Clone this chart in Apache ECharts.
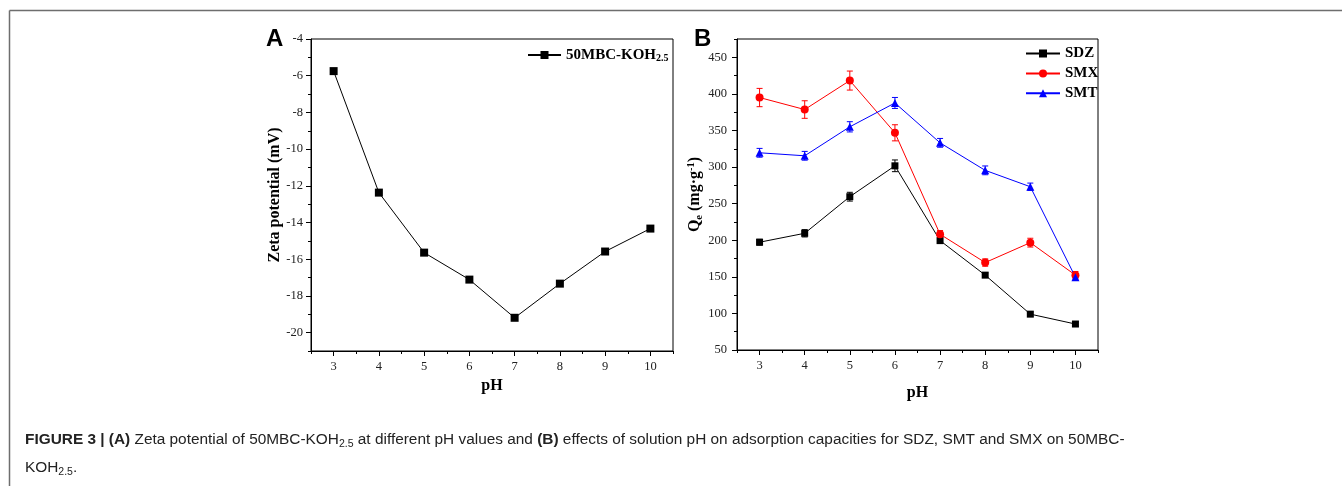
<!DOCTYPE html>
<html>
<head>
<meta charset="utf-8">
<script src="https://cdn.jsdelivr.net/npm/echarts@6/dist/echarts.min.js"></script>
<style>
html,body{margin:0;padding:0;background:#fff;}
#chart{width:1342px;height:486px;}
</style>
</head>
<body>
<div id="chart"></div>
<script>
// ---------- data ----------
const pH = [3, 4, 5, 6, 7, 8, 9, 10];
const zeta = [-5.75, -12.37, -15.64, -17.11, -19.19, -17.33, -15.58, -14.33];
const sdz = [197.3, 209.5, 259.5, 301.7, 199.5, 152.3, 99, 85.5];
const sdzErr = [4, 5, 6, 8, 4, 3, 3, 3];
const smx = [395, 378.6, 418.2, 346.8, 208.2, 169.5, 196.7, 152.3];
const smxErr = [12.5, 12, 13, 11, 5, 5, 6, 5];
const smt = [319.5, 315.4, 355, 387.6, 333.1, 295.5, 273.1, 149.5];
const smtErr = [6, 6, 7, 7.5, 6, 6, 5, 4];

// ---------- tick labels ----------
const xTicks = [3, 4, 5, 6, 7, 8, 9, 10];
const xMinorTicks = [2.5, 3.5, 4.5, 5.5, 6.5, 7.5, 8.5, 9.5, 10.5];
const zetaTicks = [-20, -18, -16, -14, -12, -10, -8, -6, -4];
const zetaMinorTicks = [-21, -19, -17, -15, -13, -11, -9, -7, -5];
const qTicks = [50, 100, 150, 200, 250, 300, 350, 400, 450];
const qMinorTicks = [75, 125, 175, 225, 275, 325, 375, 425, 475];

const SERIF = "'Liberation Serif','Times New Roman',serif";
const SANS = "'Liberation Sans',Arial,Helvetica,sans-serif";

const chart = echarts.init(document.getElementById('chart'), null, {renderer: 'canvas'});

function pairs(ys) { return pH.map((x, i) => [x, ys[i]]); }
function errData(ys, es) { return pH.map((x, i) => [x, ys[i], es[i]]); }

function mainX(gridIndex, nameGap) {
  return {
    type: 'value', gridIndex, min: 2.5, max: 10.5, position: 'bottom',
    name: 'pH', nameLocation: 'middle', nameGap,
    nameTextStyle: {fontFamily: SERIF, fontWeight: 'bold', fontSize: 16, color: '#000'},
    axisLine: {show: true, lineStyle: {color: '#000', width: 1}},
    axisTick: {show: true, length: 5, customValues: xTicks, lineStyle: {color: '#000'}},
    axisLabel: {show: true, customValues: xTicks, margin: 9, fontFamily: SERIF, fontSize: 12.5, color: '#222'},
    splitLine: {show: false}
  };
}
function minorX(gridIndex) {
  return {
    type: 'value', gridIndex, min: 2.5, max: 10.5, position: 'bottom',
    axisLine: {show: false},
    axisTick: {show: true, length: 3, customValues: xMinorTicks, lineStyle: {color: '#000'}},
    axisLabel: {show: false},
    splitLine: {show: false}
  };
}
function mainY(gridIndex, min, max, ticks, name, nameGap, margin, rich) {
  const o = {
    type: 'value', gridIndex, min, max, position: 'left',
    name, nameLocation: 'middle', nameGap, nameRotate: 90,
    nameTextStyle: {fontFamily: SERIF, fontWeight: 'bold', fontSize: 16, color: '#000'},
    axisLine: {show: true, lineStyle: {color: '#000', width: 1}},
    axisTick: {show: true, length: 5, customValues: ticks, lineStyle: {color: '#000'}},
    axisLabel: {show: true, customValues: ticks, margin, fontFamily: SERIF, fontSize: 12.5, color: '#222'},
    splitLine: {show: false}
  };
  if (rich) o.nameTextStyle.rich = rich;
  return o;
}
function minorY(gridIndex, min, max, ticks) {
  return {
    type: 'value', gridIndex, min, max, position: 'left',
    axisLine: {show: false},
    axisTick: {show: true, length: 3, customValues: ticks, lineStyle: {color: '#000'}},
    axisLabel: {show: false},
    splitLine: {show: false}
  };
}

function errorBars(name, ys, es, color, xAxisIndex, yAxisIndex) {
  return {
    type: 'custom', name: name + '_err', xAxisIndex, yAxisIndex,
    data: errData(ys, es), z: 2, silent: true,
    renderItem: function (params, api) {
      const x = api.value(0), y = api.value(1), e = api.value(2);
      const top = api.coord([x, y + e]);
      const bot = api.coord([x, y - e]);
      const w = 3;
      const st = {stroke: color, lineWidth: 1};
      return {
        type: 'group',
        children: [
          {type: 'line', shape: {x1: top[0], y1: top[1], x2: bot[0], y2: bot[1]}, style: st},
          {type: 'line', shape: {x1: top[0] - w, y1: top[1], x2: top[0] + w, y2: top[1]}, style: st},
          {type: 'line', shape: {x1: bot[0] - w, y1: bot[1], x2: bot[0] + w, y2: bot[1]}, style: st}
        ]
      };
    }
  };
}

function lineSeries(name, ys, color, symbol, size, xAxisIndex, yAxisIndex) {
  return {
    type: 'line', name, xAxisIndex, yAxisIndex, data: pairs(ys),
    symbol, symbolSize: size, showAllSymbol: true, z: 3,
    lineStyle: {color, width: 1},
    itemStyle: {color, borderWidth: 0},
    emphasis: {disabled: true},
    animation: false
  };
}

const option = {
  backgroundColor: '#fff',
  animation: false,
  grid: [
    {left: 311, top: 39, width: 362, height: 312, show: true, borderColor: '#000', borderWidth: 1, backgroundColor: 'transparent'},
    {left: 737, top: 39, width: 361, height: 311, show: true, borderColor: '#000', borderWidth: 1, backgroundColor: 'transparent'}
  ],
  xAxis: [mainX(0, 27), minorX(0), mainX(1, 35), minorX(1)],
  yAxis: [
    mainY(0, -21, -4, zetaTicks, 'Zeta potential (mV)', 28, 8),
    minorY(0, -21, -4, zetaMinorTicks),
    mainY(1, 50, 475, qTicks, '{b|Q}{sub|e}{b| (mg·g}{sup|-1}{b|)}', 32, 10, {
      b: {fontFamily: SERIF, fontWeight: 'bold', fontSize: 16, color: '#000', lineHeight: 19},
      sub: {fontFamily: SERIF, fontWeight: 'bold', fontSize: 10.5, color: '#000', lineHeight: 10, verticalAlign: 'bottom'},
      sup: {fontFamily: SERIF, fontWeight: 'bold', fontSize: 10.5, color: '#000', lineHeight: 10, verticalAlign: 'top'}
    }),
    minorY(1, 50, 475, qMinorTicks)
  ],
  legend: [
    {
      data: ['50MBC-KOH'], left: 527, top: 47.5, orient: 'vertical', padding: 0,
      itemWidth: 33, itemHeight: 10, itemGap: 4,
      formatter: function (n) { return '{a|' + n + '}{s|2.5}'; },
      textStyle: {
        fontFamily: SERIF, fontWeight: 'bold', fontSize: 15, color: '#000',
        rich: {
          a: {fontFamily: SERIF, fontWeight: 'bold', fontSize: 15, color: '#000', lineHeight: 16},
          s: {fontFamily: SERIF, fontWeight: 'bold', fontSize: 10, color: '#000', lineHeight: 10, verticalAlign: 'bottom'}
        }
      },
      selectedMode: false
    },
    {
      data: ['SDZ', 'SMX', 'SMT'], left: 1025, top: 45.5, orient: 'vertical', padding: 0,
      itemWidth: 34, itemHeight: 10, itemGap: 3.9,
      textStyle: {fontFamily: SERIF, fontWeight: 'bold', fontSize: 15, color: '#000', lineHeight: 16},
      selectedMode: false
    }
  ],
  series: [
    lineSeries('50MBC-KOH', zeta, '#000', 'rect', 8, 0, 0),
    errorBars('SDZ', sdz, sdzErr, '#000', 2, 2),
    lineSeries('SDZ', sdz, '#000', 'rect', 7, 2, 2),
    errorBars('SMX', smx, smxErr, '#ff0000', 2, 2),
    lineSeries('SMX', smx, '#ff0000', 'circle', 8, 2, 2),
    errorBars('SMT', smt, smtErr, '#0000ff', 2, 2),
    lineSeries('SMT', smt, '#0000ff', 'triangle', 8, 2, 2)
  ],
  graphic: [
    {type: 'line', shape: {x1: 9.5, y1: 10.5, x2: 1342, y2: 10.5}, style: {stroke: '#6e6e6e', lineWidth: 1.5}, silent: true},
    {type: 'line', shape: {x1: 9.5, y1: 10.5, x2: 9.5, y2: 486}, style: {stroke: '#6e6e6e', lineWidth: 1.5}, silent: true},
    {type: 'text', left: 266, top: 27, style: {text: 'A', font: "bold 24px " + SANS, fill: '#000'}, silent: true},
    {type: 'text', left: 694, top: 27, style: {text: 'B', font: "bold 24px " + SANS, fill: '#000'}, silent: true},
    {
      type: 'text', left: 25, top: 432, silent: true,
      style: {
        text: '{b|FIGURE 3 | (A)}{n| Zeta potential of 50MBC-KOH}{s|2.5}{n| at different pH values and }{b|(B)}{n| effects of solution pH on adsorption capacities for SDZ, SMT and SMX on 50MBC-}',
        rich: {
          b: {fontFamily: SANS, fontWeight: 'bold', fontSize: 15.4, fill: '#222', lineHeight: 20},
          n: {fontFamily: SANS, fontSize: 15.4, fill: '#222', lineHeight: 20},
          s: {fontFamily: SANS, fontSize: 10.5, fill: '#222', lineHeight: 11, verticalAlign: 'bottom'}
        }
      }
    },
    {
      type: 'text', left: 25, top: 460, silent: true,
      style: {
        text: '{n|KOH}{s|2.5}{n|.}',
        rich: {
          n: {fontFamily: SANS, fontSize: 15.4, fill: '#222', lineHeight: 20},
          s: {fontFamily: SANS, fontSize: 10.5, fill: '#222', lineHeight: 11, verticalAlign: 'bottom'}
        }
      }
    }
  ]
};
chart.setOption(option);
</script>
</body>
</html>
